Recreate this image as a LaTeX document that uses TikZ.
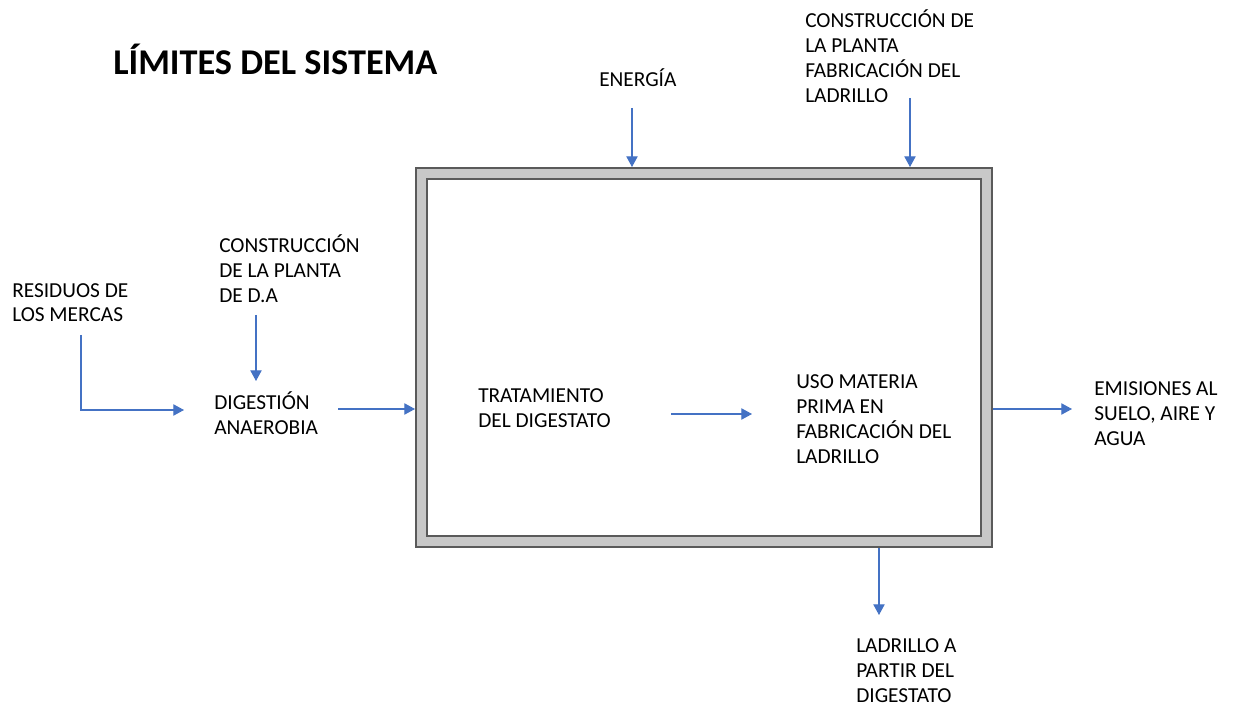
\documentclass[tikz,border=0pt]{standalone}
\usepackage{fontspec}
\setmainfont{Carlito}
\usetikzlibrary{arrows.meta}
\definecolor{arrowblue}{RGB}{68,114,196}
\definecolor{bandgray}{RGB}{200,200,200}
\definecolor{edgegray}{RGB}{90,90,90}
\tikzset{
  lbl/.style={anchor=base west, inner sep=0pt, align=left, font=\fontsize{16pt}{18.75pt}\selectfont},
  flow/.style={draw=arrowblue, line width=0.8pt, -{Triangle[length=8pt,width=8.5pt]}},
}
\begin{document}
\begin{tikzpicture}[x=0.75pt,y=-0.75pt]
\useasboundingbox (0,0) rectangle (1233,706);
% system box
\draw[draw=edgegray, fill=bandgray, line width=1.6pt] (416,168) rectangle (992,547);
\draw[draw=edgegray, fill=white, line width=1.2pt] (427,179) rectangle (981,536);
\coordinate (boxN1) at (632,167);
\coordinate (boxN2) at (910,167);
\coordinate (boxW) at (415,409);
\coordinate (boxE) at (993,409);
\coordinate (boxS) at (879,548);

\node[anchor=base west, inner sep=0pt, font=\fontsize{27.2pt}{30pt}\selectfont\bfseries] (title) at (113,75) {LÍMITES DEL SISTEMA};

% base anchor = baseline of last line
\node[lbl] (energia) at (599,87) {ENERGÍA};
\node[lbl] (constfab) at (805,103) {CONSTRUCCIÓN DE\\LA PLANTA\\FABRICACIÓN DEL\\LADRILLO};
\node[lbl] (constda) at (219,302) {CONSTRUCCIÓN\\DE LA PLANTA\\DE D.A};
\node[lbl] (residuos) at (12,322) {RESIDUOS DE\\LOS MERCAS};
\node[lbl] (digestion) at (214,434) {DIGESTIÓN\\ANAEROBIA};
\node[lbl] (tratamiento) at (478,427) {TRATAMIENTO\\DEL DIGESTATO};
\node[lbl] (uso) at (796,463) {USO MATERIA\\PRIMA EN\\FABRICACIÓN DEL\\LADRILLO};
\node[lbl] (emisiones) at (1094,445) {EMISIONES AL\\SUELO, AIRE Y\\AGUA};
\node[lbl] (ladrillo) at (856,702) {LADRILLO A\\PARTIR DEL\\DIGESTATO};

\coordinate (eS) at (632,108);
\coordinate (cfS) at (910,98);
\coordinate (cdS) at (256,315);
\coordinate (cdE) at (256,381);
\coordinate (rS) at (81,335);
\coordinate (rC) at (81,410);
\coordinate (rE) at (184,410);
\coordinate (dS) at (338,409);
\coordinate (tS) at (671,414);
\coordinate (tE) at (752,414);
\coordinate (emE) at (1072,409);
\coordinate (lE) at (879,615);

\draw[flow] (eS) -- (boxN1);
\draw[flow] (cfS) -- (boxN2);
\draw[flow] (cdS) -- (cdE);
\draw[flow] (rS) -- (rC) -- (rE);
\draw[flow] (dS) -- (boxW);
\draw[flow] (tS) -- (tE);
\draw[flow] (boxE) -- (emE);
\draw[flow] (boxS) -- (lE);
\end{tikzpicture}
\end{document}
